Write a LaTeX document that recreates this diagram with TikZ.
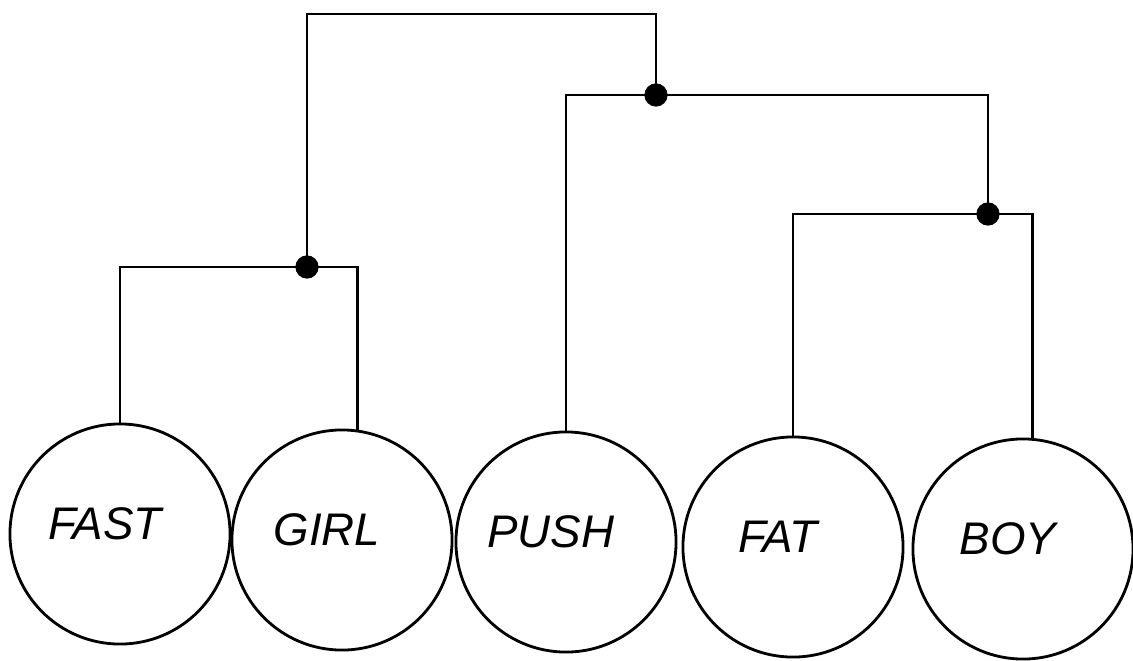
\documentclass[tikz,border=0pt]{standalone}
\usepackage{fontspec}
\newfontfamily\mao{Liberation Sans}
% texto um pouco acima e a esquerda do centro
\newcommand{\palavra}[1]{\raisebox{0.2cm}{#1\hspace{0.3cm}}}
\begin{document}
\begin{tikzpicture}[x=0.01cm, y=-0.01cm, line width=0.8pt,
  folha/.style={draw, circle, minimum size=2.2cm, inner sep=0pt,
    font=\mao\itshape\fontsize{13}{15}\selectfont}]
  \useasboundingbox (0,0) rectangle (1133,660);
  % folhas
  \foreach \nome/\x/\y/\txt in {fast/120/534/FAST, girl/342/540/GIRL,
      push/566/542/PUSH, fat/793/547/FAT, boy/1023/549/BOY}
    \node[folha] (\nome) at (\x,\y) {\palavra{\txt}};
  % juncoes
  \coordinate (j1) at (307,267);
  \coordinate (j2) at (656,95);
  \coordinate (j3) at (988,214);
  \coordinate (raiz) at (480,14);
  % ramos
  \draw (fast.north) |- (j1) -| (girl.82);
  \draw (fat.north) |- (j3) -| (boy.85);
  \draw (push.north) |- (j2) -| (j3);
  \draw (j1) |- (raiz) -| (j2);
  % pontos
  \foreach \p in {j1,j2,j3} \filldraw (\p) circle (2.9pt);
\end{tikzpicture}
\end{document}
